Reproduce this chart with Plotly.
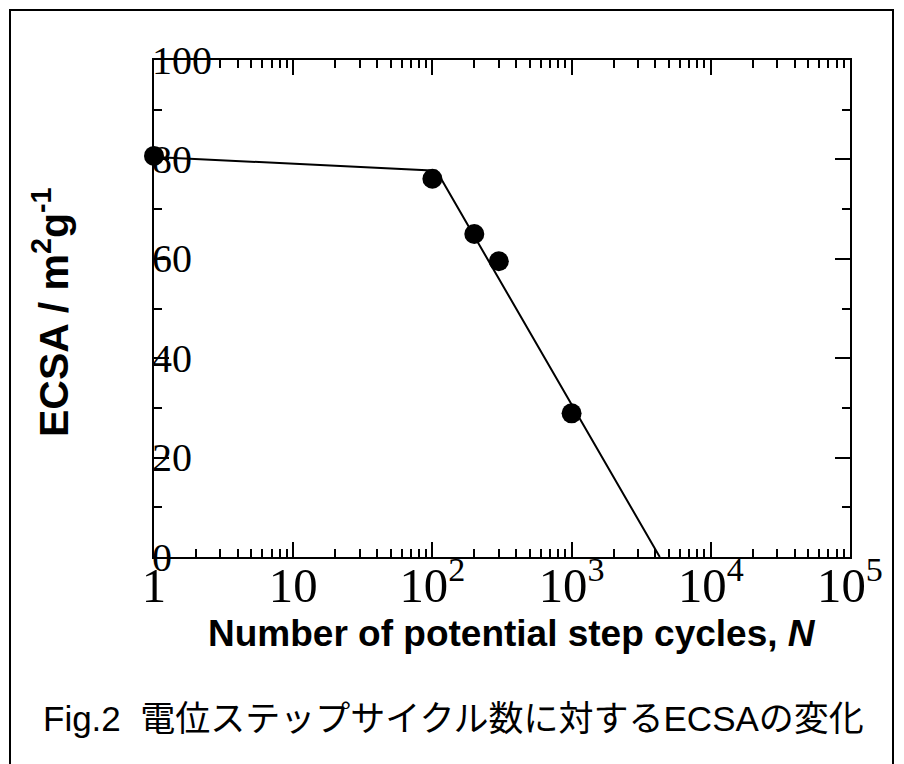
import plotly.graph_objects as go

# Measured ECSA versus number of potential step cycles
cycles = [1, 100, 200, 300, 1000]
ecsa = [80.7, 76.1, 65.0, 59.5, 28.9]

# Two-segment fitted trend line
fit_cycles = [1, 107, 4300]
fit_ecsa = [80.5, 77.7, 0]

# Y tick labels
y_ticks = [0, 20, 40, 60, 80, 100]
y_tick_text = ["0", "20", "40", "60", "80", "100"]

# Plot-area pixel geometry
L, R, T, B = 154, 850, 60, 557
W, H = 904, 764
pw, ph = R - L, B - T


def px(x):
    return (x - L) / pw


def py(y):
    return (B - y) / ph


serif = "Liberation Serif, Times New Roman, serif"
sans = "Liberation Sans, Arial, sans-serif"

fig = go.Figure()
fig.add_trace(go.Scatter(x=fit_cycles, y=fit_ecsa, mode="lines",
                         line=dict(color="black", width=2),
                         showlegend=False, hoverinfo="skip"))
fig.add_trace(go.Scatter(x=cycles, y=ecsa, mode="markers",
                         marker=dict(color="black", size=20),
                         showlegend=False, cliponaxis=False))

axis_common = dict(showline=True, linecolor="black", linewidth=2,
                   mirror="ticks", ticks="inside", ticklen=15, tickwidth=2,
                   tickcolor="black", showgrid=False, zeroline=False)

fig.update_xaxes(type="log", range=[0, 5], dtick=1, exponentformat="power",
                 tickfont=dict(family=serif, size=39, color="black"),
                 ticklabelstandoff=-14,
                 minor=dict(ticks="inside", ticklen=8, tickwidth=2,
                            tickcolor="black", dtick="D1", showgrid=False),
                 **axis_common)
fig.update_yaxes(range=[0, 100], dtick=20, showticklabels=False,
                 minor=dict(ticks="inside", ticklen=8, tickwidth=2,
                            tickcolor="black", dtick=10, showgrid=False),
                 **axis_common)

annotations = []
for v, t in zip(y_ticks, y_tick_text):
    annotations.append(dict(x=0, xref="paper", y=v, yref="y", text=t,
                            xanchor="left", yanchor="middle", xshift=-4,
                            showarrow=False,
                            font=dict(family=serif, size=40, color="black")))

annotations.append(dict(x=px(51), y=py(312), xref="paper", yref="paper",
                        text="<b>ECSA / m<sup>2</sup>g<sup>-1</sup></b>",
                        textangle=-90, showarrow=False,
                        xanchor="center", yanchor="middle",
                        font=dict(family=sans, size=41, color="black")))
annotations.append(dict(x=px(512), y=py(633), xref="paper", yref="paper",
                        text="<b>Number of potential step cycles, <i>N</i></b>",
                        showarrow=False, xanchor="center", yanchor="middle",
                        font=dict(family=sans, size=37, color="black")))
annotations.append(dict(x=px(453), y=py(718), xref="paper", yref="paper",
                        text="Fig.2  電位ステップサイクル数に対するECSAの変化",
                        showarrow=False, xanchor="center", yanchor="middle",
                        font=dict(family="Liberation Sans, Noto Sans CJK JP, sans-serif",
                                  size=35, color="black")))

# Outer frame around the figure
frame = dict(type="rect", xref="paper", yref="paper",
             x0=px(10), x1=px(893), y0=py(820), y1=py(10),
             line=dict(color="black", width=2), fillcolor="rgba(0,0,0,0)",
             layer="below")

fig.update_layout(width=W, height=H, margin=dict(l=L, r=W - R, t=T, b=H - B),
                  paper_bgcolor="white", plot_bgcolor="white",
                  annotations=annotations, shapes=[frame])

fig.write_html("out.html")
